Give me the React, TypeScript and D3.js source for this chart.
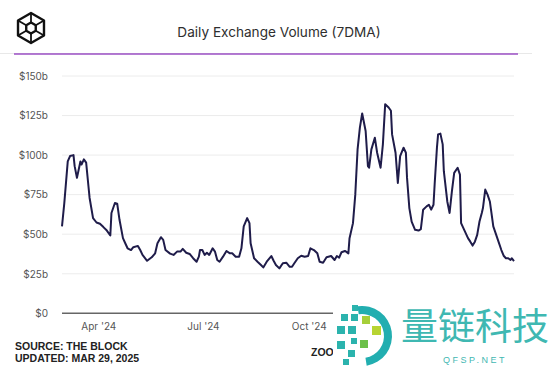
import React from "react";
import * as d3 from "d3";

const START_DATE = "2024-02-29";
const END_DATE = "2025-03-28";

// days since START_DATE
const dayOffsets = [
  0, 2, 5, 7, 10, 11, 13, 16, 17, 19, 21, 23, 24, 27, 30, 33, 36, 39, 42, 43,
  46, 48, 50, 53, 55, 57, 60, 62, 66, 68, 70, 74, 78, 81, 83, 86, 88, 90, 94, 97,
  100, 103, 105, 108, 111, 114, 117, 119, 120, 122, 124, 126, 128, 131, 133, 135, 137, 140, 143, 146,
  148, 151, 154, 156, 158, 161, 163, 164, 167, 170, 173, 175, 178, 182, 184, 186, 189, 192, 195, 198,
  200, 202, 205, 208, 211, 214, 216, 219, 222, 224, 227, 230, 234, 237, 239, 241, 243, 246, 247, 249,
  250, 253, 255, 257, 259, 261, 264, 266, 267, 269, 272, 274, 277, 279, 281, 284, 286, 287, 290, 292,
  294, 297, 299, 300, 302, 304, 307, 310, 312, 314, 317, 319, 321, 323, 324, 326, 327, 329, 331, 332,
  335, 337, 339, 341, 344, 346, 347, 349, 351, 353, 355, 357, 359, 361, 363, 365, 366, 368, 370, 372,
  373, 375, 377, 379, 382, 384, 386, 388, 390, 391, 393,
];

// billions USD
const volumes = [
  54.9, 69.7, 96, 99.4, 100, 93, 85.6, 96, 94, 97.3, 95.2, 80.3, 72.9, 60.2, 57.4, 56.6, 54.5, 52.3, 49.2, 63.4,
  69.7, 69.3, 59.1, 47.5, 44.3, 41.1, 40, 41.8, 42.6, 40, 36.9, 33.2, 35.4, 37.9, 44.3, 48.1, 46.4, 40, 37.7, 36.9,
  39, 39, 40.7, 38.3, 37.5, 34.8, 32.6, 35.8, 40, 40, 36.9, 38.3, 36.9, 41.1, 39, 33.7, 32.6, 35.8, 39.4, 37.9,
  37.9, 35.8, 35.8, 41.1, 54.9, 60.2, 57, 44.3, 34.8, 32.6, 30.5, 29, 32.6, 36.2, 33.2, 30.5, 28.4, 31.6, 32, 29.4,
  29.4, 31.6, 34.8, 36.4, 35.8, 36.2, 41.1, 40, 37.9, 32.6, 32, 35.4, 36.2, 33.7, 36.2, 35.2, 38.6, 39.4, 39, 37.9,
  47.5, 57, 75, 103.6, 117.4, 126.3, 115.2, 93, 92, 103.6, 111, 101.5, 92, 106.8, 132.2, 130.1, 128, 113.1, 101.5, 82.4,
  99.4, 104.7, 101.5, 85.6, 66.5, 58, 52.8, 52.3, 53.2, 65.5, 67.6, 68.6, 65.5, 68.6, 81.4, 104.7, 113.1, 113.6, 106.8, 89.8,
  70.7, 63.4, 77.1, 88.8, 92, 87.7, 57, 53.8, 50.7, 47.5, 45.3, 42.8, 45.3, 49.6, 58, 63.4, 66.5, 78.2, 75, 70.7,
  65.5, 54.9, 50.7, 46.4, 40, 36.4, 34.8, 34.8, 33.7, 34.8, 33,
];

const yTicks = [0, 25, 50, 75, 100, 125, 150];
const yTickLabels = ["$0", "$25b", "$50b", "$75b", "$100b", "$125b", "$150b"];
const xTickDates = ["2024-04-01", "2024-07-01", "2024-10-01"];
const xTickLabels = ["Apr '24", "Jul '24", "Oct '24"];

const TITLE = "Daily Exchange Volume (7DMA)";
const SOURCE_LINE = "SOURCE: THE BLOCK";
const UPDATED_LINE = "UPDATED: MAR 29, 2025";
const ZOOM_LABEL = "ZOOM";
const WATERMARK_CN = "量链科技";
const WATERMARK_EN = "QFSP.NET";

const W = 555;
const H = 367;

export default function App() {
  const parse = d3.utcParse("%Y-%m-%d");
  const start = parse(START_DATE)!;
  const end = parse(END_DATE)!;
  const x = d3.scaleUtc().domain([start, end]).range([62, 514]);
  const y = d3.scaleLinear().domain([0, 150]).range([313.3, 76]);

  const data = dayOffsets.map((d, i) => ({ date: d3.utcDay.offset(start, d), v: volumes[i] }));
  const line = d3
    .line<{ date: Date; v: number }>()
    .x((d) => x(d.date))
    .y((d) => y(d.v));

  // logo hexagon
  const cx = 31, cy = 28, R = 15, r = 5.5;
  const hex = (rad: number) =>
    d3.range(6).map((k) => {
      const a = ((-90 + 60 * k) * Math.PI) / 180;
      return [cx + rad * Math.cos(a), cy + rad * Math.sin(a)] as [number, number];
    });
  const outer = hex(R);
  const inner = hex(r);
  const poly = (pts: [number, number][]) => "M" + pts.map((p) => p.join(",")).join("L") + "Z";

  // watermark squares
  const wmSquares: [number, number, number, string][] = [
    [352, 305, 6, "#2bb3ad"],
    [341, 314, 7, "#2bb3ad"],
    [351, 314, 7, "#2bb3ad"],
    [362, 316, 8, "#a6cf3a"],
    [337, 326, 8, "#2bb3ad"],
    [348, 326, 8, "#2bb3ad"],
    [372, 326, 9, "#b7d432"],
    [351, 338, 6, "#2bb3ad"],
    [337, 341, 8, "#2bb3ad"],
    [360, 340, 8, "#6cc04a"],
    [348, 350, 7, "#2bb3ad"],
    [343, 359, 6, "#2bb3ad"],
  ];
  const arc = d3
    .arc()
    .innerRadius(22)
    .outerRadius(30)
    .startAngle(-0.15)
    .endAngle(Math.PI * 0.95);

  return (
    <svg
      width={W}
      height={H}
      style={{ position: "absolute", left: 0, top: 0, background: "#fff" }}
      xmlns="http://www.w3.org/2000/svg"
    >
      <rect x={0} y={0} width={W} height={H} fill="#fff" />
      {/* header */}
      <g fill="none" stroke="#111" strokeWidth={2.4} strokeLinejoin="round">
        <path d={poly(outer)} />
        <path d={poly(inner)} />
        {[0, 1, 2, 3, 4, 5].map((k) => (
          <line key={k} x1={outer[k][0]} y1={outer[k][1]} x2={inner[k][0]} y2={inner[k][1]} strokeWidth={1.8} />
        ))}
      </g>
      <text
        x={279}
        y={37}
        textAnchor="middle"
        fontFamily="Inter, 'Noto Sans', sans-serif"
        fontSize={13.6}
        fill="#2e2e2e"
      >
        {TITLE}
      </text>
      <line x1={0} x2={532} y1={53.5} y2={53.5} stroke="#e8e8e8" strokeWidth={1} />
      <line x1={14} x2={518} y1={54} y2={54} stroke="#9b4fc4" strokeWidth={1.5} />

      {/* grid */}
      {yTicks.map((t, i) => (
        <g key={t}>
          {t > 0 && <line x1={62} x2={514} y1={y(t)} y2={y(t)} stroke="#ececec" strokeWidth={1} />}
          <text
            x={48}
            y={y(t) + 3.8}
            textAnchor="end"
            fontFamily="Inter, 'Noto Sans', sans-serif"
            fontSize={10}
            fill="#555"
          >
            {yTickLabels[i]}
          </text>
        </g>
      ))}
      <line x1={62} x2={514} y1={y(0)} y2={y(0)} stroke="#666" strokeWidth={1.4} />
      {xTickDates.map((d, i) => (
        <text
          key={d}
          x={x(parse(d)!)}
          y={330}
          textAnchor="middle"
          fontFamily="Inter, 'Noto Sans', sans-serif"
          fontSize={10}
          fill="#555"
        >
          {xTickLabels[i]}
        </text>
      ))}

      {/* series */}
      <path d={line(data) || ""} fill="none" stroke="#1f1c4a" strokeWidth={2} strokeLinejoin="round" />

      {/* footer */}
      <g fontFamily="'Liberation Sans', Arial, sans-serif" fontWeight="bold" fontSize={10.5} fill="#222">
        <text x={15} y={350}>{SOURCE_LINE}</text>
        <text x={15} y={362}>{UPDATED_LINE}</text>
        <text x={311} y={356}>{ZOOM_LABEL}</text>
      </g>

      {/* watermark */}
      <rect x={333} y={302} width={222} height={65} fill="#fff" />
      {wmSquares.map(([sx, sy, s, c], i) => (
        <rect key={i} x={sx} y={sy} width={s} height={s} fill={c} />
      ))}
      <path d={arc({} as any) || ""} transform="translate(362,336)" fill="#22aeb0" />
      <text
        x={475}
        y={340}
        textAnchor="middle"
        fontFamily="'Noto Sans CJK SC', sans-serif"
        fontSize={37}
        fill="#3fb8b2"
      >
        {WATERMARK_CN}
      </text>
      <text
        x={475}
        y={363}
        textAnchor="middle"
        fontFamily="'Liberation Sans', Arial, sans-serif"
        fontSize={9}
        letterSpacing={2.5}
        fill="#3fb8b2"
      >
        {WATERMARK_EN}
      </text>
    </svg>
  );
}
